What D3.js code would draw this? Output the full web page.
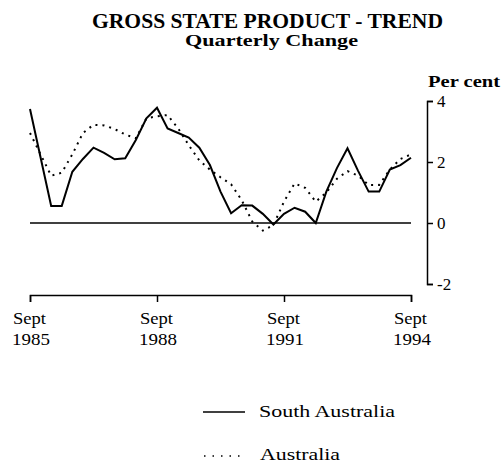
<!DOCTYPE html>
<html lang="en">
<head>
<meta charset="UTF-8"/>
<title>Gross State Product - Trend</title>
<script src="https://d3js.org/d3.v7.min.js"></script>
<style>
	body { margin:0; background:#fff; }
	svg text { font-family:"Liberation Serif","Times New Roman",serif; fill:#000; }
</style>
</head>
<body>
<script>
	// quarterly % change, Sept 1985 .. Sept 1994 (37 quarters)
	var southAustralia = [3.74,2.15,0.56,0.56,1.68,2.1,2.47,2.3,2.09,2.12,2.72,3.43,3.78,3.1,2.95,2.8,2.47,1.9,1.03,0.32,
		0.58,0.57,0.3,-0.05,0.3,0.5,0.37,0.0,1.03,1.8,2.45,1.71,1.03,1.03,1.75,1.9,2.14];
	var australia = [2.95,2.25,1.55,1.65,2.25,2.95,3.22,3.2,3.08,2.9,2.78,3.43,3.5,3.54,3.1,2.55,2.05,1.75,1.5,1.27,
		0.75,0.05,-0.25,-0.07,0.7,1.3,1.15,0.7,1.0,1.45,1.7,1.55,1.25,1.25,1.75,2.1,2.25];
	var xTicks = [0,12,24,36];
	var xTickMonths = ["Sept","Sept","Sept","Sept"];
	var xTickYears = ["1985","1988","1991","1994"];
	var yTicks = [4,2,0,-2];

	var w = 502, h = 465;

	var svg = d3.select("body").append("svg")
		.attr("width",w)
		.attr("height",h);

	var xScale = d3.scaleLinear()
		.domain([0,36])
		.range([30,411]);

	var yScale = d3.scaleLinear()
		.domain([-2,4])
		.range([284,101]);

	//------------titles-------------
	svg.append("text")
		.attr("x",92).attr("y",28)
		.attr("font-size",20).attr("font-weight","bold")
		.attr("textLength",351).attr("lengthAdjust","spacingAndGlyphs")
		.text("GROSS STATE PRODUCT - TREND");
	svg.append("text")
		.attr("x",185).attr("y",46)
		.attr("font-size",17).attr("font-weight","bold")
		.attr("textLength",173).attr("lengthAdjust","spacingAndGlyphs")
		.text("Quarterly Change");
	svg.append("text")
		.attr("x",428).attr("y",87)
		.attr("font-size",16).attr("font-weight","bold")
		.attr("textLength",72).attr("lengthAdjust","spacingAndGlyphs")
		.text("Per cent");

	//------------axes-------------
	var xAxis = d3.axisBottom(xScale)
		.tickValues(xTicks)
		.tickSize(7)
		.tickSizeOuter(7)
		.tickFormat("");
	var gx = svg.append("g")
		.attr("transform","translate(0,295)")
		.call(xAxis);
	gx.selectAll("path,line").attr("stroke","#000").attr("stroke-width",1.5);

	var labels = svg.selectAll(".xlab")
		.data(xTicks)
		.enter()
		.append("g")
		.attr("class","xlab");
	labels.append("text")
		.attr("x",function(d){ return xScale(d) - 17; })
		.attr("y",324)
		.attr("font-size",17)
		.attr("textLength",33).attr("lengthAdjust","spacingAndGlyphs")
		.text(function(d,i){ return xTickMonths[i]; });
	labels.append("text")
		.attr("x",function(d){ return xScale(d) - 18; })
		.attr("y",345)
		.attr("font-size",17)
		.attr("textLength",38).attr("lengthAdjust","spacingAndGlyphs")
		.text(function(d,i){ return xTickYears[i]; });

	var yAxis = d3.axisRight(yScale)
		.tickValues(yTicks)
		.tickSize(6)
		.tickSizeOuter(6)
		.tickPadding(4)
		.tickFormat(function(d){ return String(d); });
	var gy = svg.append("g")
		.attr("transform","translate(427,0)")
		.call(yAxis);
	gy.selectAll("path,line").attr("stroke","#000").attr("stroke-width",1.5);
	gy.selectAll("text")
		.attr("font-size",17)
		.attr("font-family","Liberation Serif")
		.attr("fill","#000");

	//------------zero line-------------
	svg.append("line")
		.attr("x1",xScale(0)).attr("x2",xScale(36))
		.attr("y1",yScale(0)).attr("y2",yScale(0))
		.attr("stroke","#000").attr("stroke-width",1.5);

	//------------series-------------
	var line = d3.line()
		.x(function(d,i){ return xScale(i); })
		.y(function(d){ return yScale(d); });

	svg.append("path")
		.datum(australia)
		.attr("d",line)
		.attr("fill","none")
		.attr("stroke","#000")
		.attr("stroke-width",2)
		.attr("stroke-dasharray","2,5");

	svg.append("path")
		.datum(southAustralia)
		.attr("d",line)
		.attr("fill","none")
		.attr("stroke","#000")
		.attr("stroke-width",2);

	//------------legend-------------
	svg.append("line")
		.attr("x1",203).attr("x2",245).attr("y1",412).attr("y2",412)
		.attr("stroke","#000").attr("stroke-width",1.5);
	svg.append("text")
		.attr("x",259).attr("y",417)
		.attr("font-size",17)
		.attr("textLength",136).attr("lengthAdjust","spacingAndGlyphs")
		.text("South Australia");
	svg.append("line")
		.attr("x1",204).attr("x2",243).attr("y1",456).attr("y2",456)
		.attr("stroke","#000").attr("stroke-width",1.5)
		.attr("stroke-dasharray","1.5,7");
	svg.append("text")
		.attr("x",260).attr("y",460)
		.attr("font-size",17)
		.attr("textLength",80).attr("lengthAdjust","spacingAndGlyphs")
		.text("Australia");
</script>
</body>
</html>
